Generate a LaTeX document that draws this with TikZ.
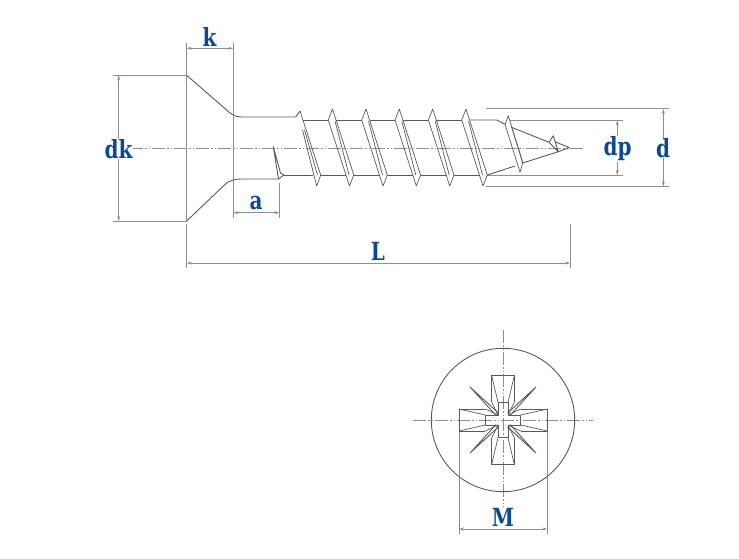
\documentclass[tikz,border=0pt]{standalone}
\usepackage{fontspec}
\newfontfamily\lblfont[FakeStretch=0.8]{DejaVu Serif}
\usetikzlibrary{arrows.meta}
\definecolor{lblblue}{HTML}{0A4A94}
\definecolor{partc}{HTML}{5A5A5A}
\definecolor{dimc}{HTML}{8E8E8E}
\tikzset{
  part/.style={draw=partc,line width=0.9pt,line join=round},
  thin part/.style={draw=partc,line width=0.7pt,line join=round},
  extline/.style={draw=dimc,line width=1pt},
  dimline/.style={draw=dimc,line width=1pt,{Stealth[length=5pt,width=3pt]}-{Stealth[length=5pt,width=3pt]}},
  axisline/.style={draw=dimc,line width=0.8pt,dash pattern=on 13pt off 2pt on 1.5pt off 2pt on 1.5pt off 2pt},
  dimlabel/.style={text=lblblue,font=\lblfont\bfseries\fontsize{25}{25}\selectfont,inner sep=0.5pt,anchor=center},
  gaplabel/.style={dimlabel,fill=white}
}
\begin{document}
\begin{tikzpicture}[x=1pt,y=-1pt]
\useasboundingbox (0,0) rectangle (739,559);
% ---------- dimension points
\coordinate (hT) at (186.7,75.3);
\coordinate (hB) at (186.7,221);
% axis
\coordinate (axL) at (130,148);
\coordinate (axR) at (585,148);
\draw[axisline] (axL) -- (axR);
% head
\draw[part] (hT) -- (226,109.5) .. controls (230,113.5) and (235,117) .. (241,117) -- (295.7,117) -- (300,111);
\draw[part] (hB) -- (226,183.5) .. controls (230,180.5) and (235,179) .. (241,179) -- (278.5,179);
% extension lines
\draw[extline] (186.7,43) -- (hT);
\draw[extline] (hT) -- (hB);
\draw[extline] (hB) ++(0,3) -- (186.7,268);
\draw[extline] (233.3,43) -- (233.3,218);
\draw[extline] (113,75.3) -- (hT);
\draw[extline] (113,221) -- (hB);
\draw[extline] (279.7,183) -- (279.7,218);
\draw[extline] (570,224) -- (570,268);
\draw[extline] (486,109) -- (669,109);
\draw[extline] (486,186.5) -- (669,186.5);
\draw[extline] (510,120.3) -- (622.7,120.3);
\draw[extline] (487,175) -- (622.7,175);
% thread start
\draw[part] (273.3,146.7) -- (278.5,179) -- (284,175) -- (280.5,173) -- cycle;
\draw[part] (284,175) -- (313,175);
% first thread
\draw[thin part] (300,111) -- (320.7,175) -- (316.7,186) -- (302.5,130);
\draw[thin part] (304.5,130) -- (317.5,175);
\draw[part] (303,120) -- (328.3,120);
% threads
\foreach \px/\nx in {332.5/366,366/399.3,399.3/432.7,432.7/466,466/499.3}{
  \draw[thin part] (\px-4.3,120) -- (\px,109) -- (\px+21.3,175) -- (\px+17,186) -- cycle;
  \draw[thin part] (\px+2.5,121) -- (\px+16.5,175);
}
\foreach \px/\nx in {332.5/366,366/399.3,399.3/432.7,432.7/466}{
  \draw[part] (\px+3.7,120) -- (\nx-4.3,120);
  \draw[part] (\px+21.3,175) -- (\nx+13.5,175);
}
\draw[part] (320.7,175) -- (346,175);
% tip
\draw[part] (469.7,120) -- (496.7,120) -- (505,124.3);
\draw[thin part] (505,124.3) -- (508.3,115.7) -- (522.7,163) -- (520,172.3) -- cycle;
\draw[thin part] (511.7,127.3) -- (523,163);
\draw[part] (511.5,127.3) -- (549,142.3) -- (553.3,135.7) -- (558.3,151.7) -- (549,142.3);
\draw[part] (555,141.7) -- (569.3,147.7) -- (558.3,151.7) -- (522.7,163);
\draw[part] (487.3,175) -- (515,166);
% dimensions
\coordinate (kA) at (186.7,48.3); \coordinate (kB) at (233.3,48.3);
\draw[dimline] (kA) -- (kB);
\coordinate (aA) at (233.3,212.7); \coordinate (aB) at (279.7,212.7);
\draw[dimline] (aA) -- (aB);
\coordinate (LA) at (186.7,263); \coordinate (LB) at (570,263);
\draw[dimline] (LA) -- (LB);
\coordinate (dkA) at (118.7,75.3); \coordinate (dkB) at (118.7,221);
\draw[dimline] (dkA) -- (dkB);
\coordinate (dpA) at (617.3,120.3); \coordinate (dpB) at (617.3,175);
\draw[dimline] (dpA) -- (dpB);
\coordinate (dA) at (663.3,109); \coordinate (dB) at (663.3,186.5);
\draw[dimline] (dA) -- (dB);
% labels
\node[dimlabel] (lk) at (209.5,37) {k};
\node[dimlabel] (la) at (256,203) {a};
\node[dimlabel] (lL) at (378,251) {L};
\node[gaplabel] (ldk) at (118.5,149) {dk};
\node[gaplabel] (ldp) at (617.5,149) {dp};
\node[gaplabel] (ld) at (663,148) {d};
% ---------- front view
\coordinate (c) at (503,420);
\draw[axisline] (413.3,420) -- (593.3,420);
\draw[axisline] (503,330) -- (503,507);
\draw[part] (c) circle (71.7);
\draw[extline] (459,409) -- (459,534);
\draw[extline] (547.3,409) -- (547.3,534);
\coordinate (mA) at (459,529); \coordinate (mB) at (547.3,529);
\draw[dimline] (mA) -- (mB);
\node[dimlabel] (lM) at (503,517) {M};
% recess
\begin{scope}[shift={(503,420)}]
  \draw[thin part] (-5,-17.7) -- (5,-17.7) -- (5,-5) -- (17.7,-5) -- (17.7,5) -- (5,5) -- (5,17.7) -- (-5,17.7) -- (-5,5) -- (-17.7,5) -- (-17.7,-5) -- (-5,-5) -- cycle;
  \draw[thin part] (-11.3,-17.7) -- (-11.3,-44.3) -- (11.3,-44.3) -- (11.3,-17.7);
  \draw[thin part] (-11.3,17.7) -- (-11.3,44.3) -- (11.3,44.3) -- (11.3,17.7);
  \draw[thin part] (-17.7,-11) -- (-44,-11) -- (-44,11) -- (-17.7,11);
  \draw[thin part] (17.7,-11) -- (44.3,-11) -- (44.3,11) -- (17.7,11);
  \draw[thin part] (-11.3,-44.3) -- (-5,-17.7) (11.3,-44.3) -- (5,-17.7);
  \draw[thin part] (-11.3,44.3) -- (-5,17.7) (11.3,44.3) -- (5,17.7);
  \draw[thin part] (-44,-11) -- (-17.7,-5) (-44,11) -- (-17.7,5);
  \draw[thin part] (44.3,-11) -- (17.7,-5) (44.3,11) -- (17.7,5);
  \foreach \sx in {-1,1}{\foreach \sy in {-1,1}{
    \begin{scope}[xscale=\sx,yscale=\sy]
      \draw[thin part,line width=0.9pt] (33,33) -- (7,4.6) (33,33) -- (4.6,7);
      \draw[thin part] (17.7,11) -- (5,5) (11.3,17.7) -- (5,5);
    \end{scope}
  }}
\end{scope}
\end{tikzpicture}
\end{document}
